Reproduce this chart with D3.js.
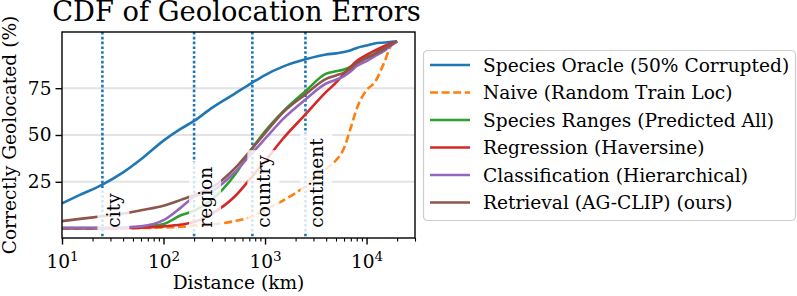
<!DOCTYPE html>
<html>
<head>
<meta charset="utf-8">
<script src="https://cdn.jsdelivr.net/npm/d3@7"></script>
<style>
body { margin: 0; background: #fff; }
svg text { font-family: "DejaVu Serif", serif; fill: #000; }
</style>
</head>
<body>
<div id="chart"></div>
<script>
// distances (km) shared by all curves
var dist = [10, 15, 25, 40, 60, 100, 150, 200, 300, 500, 750, 1000, 1500, 2500, 4000, 5000, 6000, 7000, 8000, 10000, 12000, 15000, 17500, 20000];

var oracle = [13.5, 18, 23.5, 30, 37, 47, 53.5, 57.5, 64.5, 72, 78, 82, 86.5, 90.4, 93, 93.6, 94.3, 95.3, 96.5, 97.8, 98.9, 99.4, 99.8, 100];
var naive = [0, 0, 0, 0, 0.3, 0.6, 1, 1.5, 2.2, 4, 6.5, 10, 15, 22.6, 32, 36.5, 43, 54, 64, 74, 78, 89, 98, 100];
var ranges = [0.3, 0.3, 0.3, 0.4, 1, 2.5, 7.3, 9.5, 15.5, 28.5, 43, 52, 62.5, 73.4, 82.8, 84, 85, 86.5, 88.8, 91.5, 93.5, 96.5, 98.5, 100];
var regression = [0.2, 0.2, 0.2, 0.3, 0.5, 1.2, 2.2, 3.5, 8, 17, 28, 36, 48, 61, 73, 78, 82.8, 86.5, 89.5, 92.8, 95, 97.5, 99, 100];
var classification = [0.4, 0.4, 0.4, 0.6, 1.2, 4.5, 11.5, 17, 20, 30, 40.5, 48, 58.5, 69, 77.5, 79.5, 81.5, 84, 86.8, 89.5, 92, 95, 97.8, 100];
var retrieval = [4, 5.2, 6.6, 8, 9.8, 12.2, 15.5, 18, 22, 32, 43, 51, 62, 71.7, 80, 81.8, 83.3, 85.5, 88.3, 91, 93.2, 96, 98.3, 100];

var seriesNames = ["Species Oracle (50% Corrupted)", "Naive (Random Train Loc)", "Species Ranges (Predicted All)",
    "Regression (Haversine)", "Classification (Hierarchical)", "Retrieval (AG-CLIP) (ours)"];
var seriesColors = ["#1f77b4", "#ff7f0e", "#2ca02c", "#d62728", "#9467bd", "#8c564b"];
var seriesValues = [oracle, naive, ranges, regression, classification, retrieval];

// scale thresholds
var levelNames = ["city", "region", "country", "continent"];
var levelDist = [25, 200, 750, 2500];

var yTicks = [25, 50, 75];
var xTicks = [10, 100, 1000, 10000];

var svgWidth = 797;
var svgHeight = 296;
var margin = {top: 32, right: 382, bottom: 58, left: 62};
var cWidth = svgWidth - margin.left - margin.right;
var cHeight = svgHeight - margin.top - margin.bottom;
var fs = "18.6px";

var svg = d3.select("#chart").append("svg")
    .attr("width", svgWidth)
    .attr("height", svgHeight);

var chartGroup = svg.append("g")
    .attr("transform", `translate(${margin.left}, ${margin.top})`);

var x = d3.scaleLog().domain([10, 30000]).range([0, cWidth]);
var y = d3.scaleLinear().domain([-5, 105]).range([cHeight, 0]);

// grid
chartGroup.selectAll(".grid").data(yTicks).enter().append("line")
    .attr("x1", 0).attr("x2", cWidth)
    .attr("y1", d => y(d)).attr("y2", d => y(d))
    .attr("stroke", "#e3e3e3").attr("stroke-width", 2);

// threshold lines
chartGroup.selectAll(".level").data(levelDist).enter().append("line")
    .attr("x1", d => x(d)).attr("x2", d => x(d))
    .attr("y1", 0).attr("y2", cHeight)
    .attr("stroke", "#1f77b4").attr("stroke-width", 2.6)
    .attr("stroke-dasharray", "2.6,2.2");

// curves
var line = d3.line()
    .x(d => x(d[0]))
    .y(d => y(d[1]))
    .curve(d3.curveMonotoneX);

seriesValues.forEach((vals, i) => {
    chartGroup.append("path")
        .datum(dist.map((d, j) => [d, vals[j]]))
        .attr("fill", "none")
        .attr("stroke", seriesColors[i])
        .attr("stroke-width", 2.6)
        .attr("stroke-dasharray", i == 1 ? "8,3.6" : null)
        .attr("d", line);
});

// threshold labels with white boxes
levelNames.forEach((name, i) => {
    var g = chartGroup.append("g")
        .attr("transform", `translate(${x(levelDist[i])}, ${y(0)}) rotate(-90)`);
    var box = g.append("rect").attr("fill", "white").attr("opacity", 0.82);
    var t = g.append("text")
        .attr("x", 1).attr("y", 17.5)
        .attr("font-size", fs)
        .text(name);
    var len = t.node().getComputedTextLength();
    box.attr("x", -5).attr("y", -5).attr("width", len + 11).attr("height", 32);
});

// axes
var xAxis = d3.axisBottom(x).tickValues(xTicks).tickSize(6.5).tickFormat("");
var minor = [];
[10, 100, 1000, 10000].forEach(b => { for (var k = 2; k <= 9; k++) { if (b * k <= 30000) minor.push(b * k); } });
var xMinor = d3.axisBottom(x).tickValues(minor).tickSize(3.6).tickFormat("");
var yAxis = d3.axisLeft(y).tickValues(yTicks).tickSize(6.5).tickFormat(d => d);

chartGroup.append("g").attr("transform", `translate(0, ${cHeight})`).call(xMinor)
    .call(g => g.select(".domain").remove())
    .selectAll("line").attr("stroke-width", 1.1);
var xg = chartGroup.append("g").attr("transform", `translate(0, ${cHeight})`).call(xAxis);
xg.select(".domain").remove();
xg.selectAll("line").attr("stroke-width", 1.4);

xg.selectAll(".tick").each(function(d) {
    var t = d3.select(this).append("text")
        .attr("y", 30)
        .attr("text-anchor", "middle")
        .attr("font-size", fs)
        .attr("fill", "#000");
    t.append("tspan").text("10");
    t.append("tspan").attr("font-size", "13.5px").attr("dy", -7.5).text(Math.round(Math.log10(d)));
});

var yg = chartGroup.append("g").call(yAxis);
yg.select(".domain").remove();
yg.selectAll("line").attr("stroke-width", 1.4);
yg.selectAll("text").attr("font-size", fs).attr("font-family", "DejaVu Serif").attr("fill", "#000").attr("dx", "-1");

// frame
chartGroup.append("rect")
    .attr("width", cWidth).attr("height", cHeight)
    .attr("fill", "none").attr("stroke", "#000").attr("stroke-width", 1.4);

// labels
svg.append("text")
    .attr("x", margin.left + cWidth / 2 - 2).attr("y", 21)
    .attr("text-anchor", "middle").attr("font-size", "27.3px")
    .text("CDF of Geolocation Errors");

svg.append("text")
    .attr("x", margin.left + cWidth / 2).attr("y", 289)
    .attr("text-anchor", "middle").attr("font-size", fs)
    .text("Distance (km)");

svg.append("text")
    .attr("transform", `translate(15.5, ${margin.top + cHeight / 2}) rotate(-90)`)
    .attr("text-anchor", "middle").attr("font-size", fs)
    .text("Correctly Geolocated (%)");

// legend
var legend = svg.append("g").attr("transform", "translate(423, 50)");
legend.append("rect")
    .attr("x", 0.5).attr("y", 0.5).attr("width", 372).attr("height", 170)
    .attr("rx", 4).attr("fill", "white").attr("fill-opacity", 0.8)
    .attr("stroke", "#cccccc").attr("stroke-width", 1.2);

seriesNames.forEach((name, i) => {
    var row = legend.append("g").attr("transform", `translate(0, ${15 + i * 27.5})`);
    row.append("line")
        .attr("x1", 7).attr("x2", 47)
        .attr("stroke", seriesColors[i]).attr("stroke-width", 2.6)
        .attr("stroke-dasharray", i == 1 ? "8,3.6" : null);
    row.append("text")
        .attr("x", 60).attr("dy", "0.35em")
        .attr("font-size", fs)
        .text(name);
});
</script>
</body>
</html>
